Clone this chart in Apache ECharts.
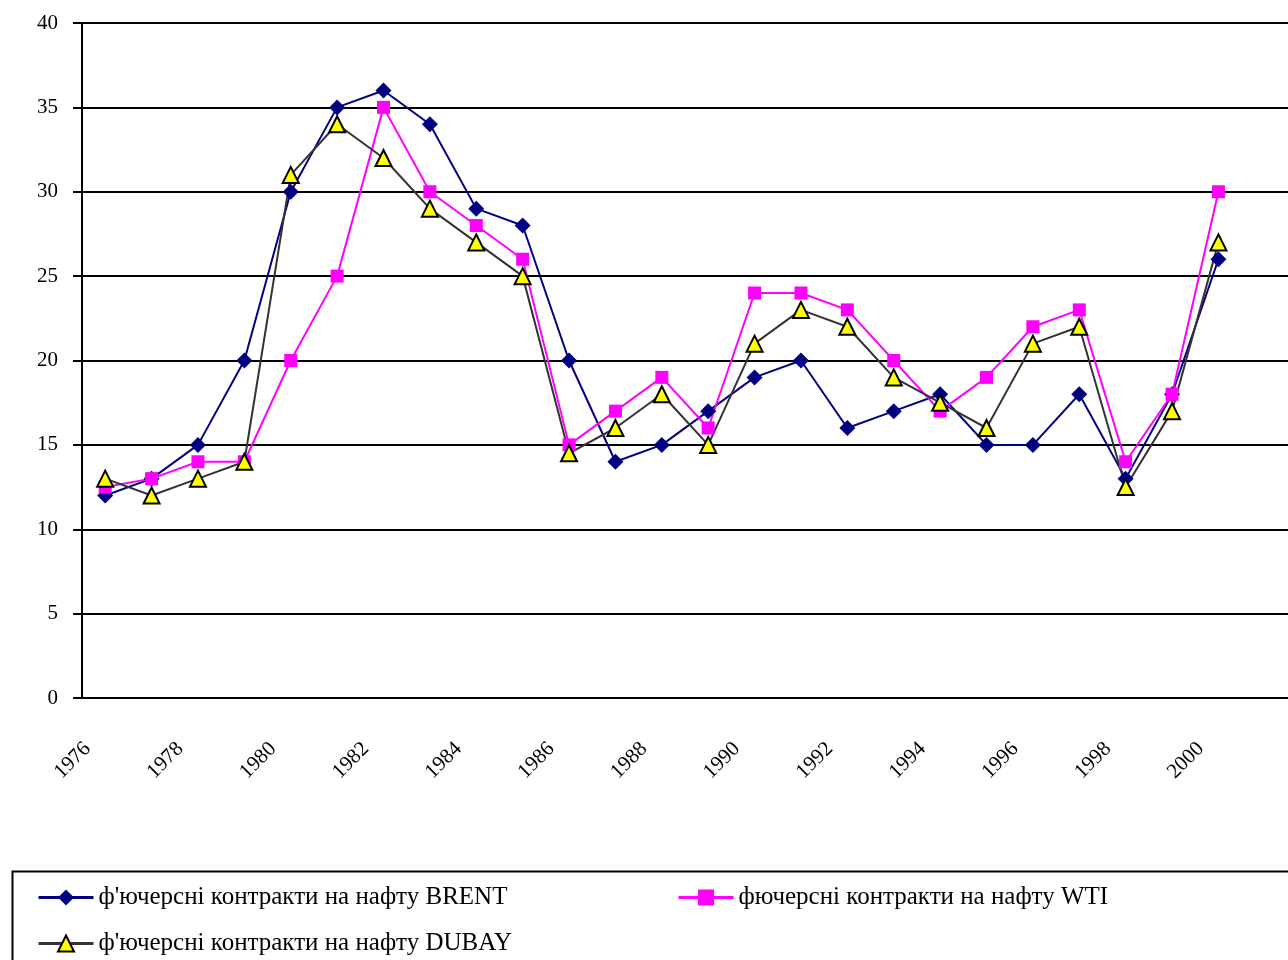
<!DOCTYPE html>
<html>
<head>
<meta charset="utf-8">
<script src="https://cdn.jsdelivr.net/npm/echarts@6/dist/echarts.min.js"></script>
<style>
  html, body { margin: 0; padding: 0; background: #fff; }
  #chart { width: 1288px; height: 960px; }
</style>
</head>
<body>
<div id="chart"></div>
<script>
const years = ['1976','1977','1978','1979','1980','1981','1982','1983','1984','1985','1986','1987','1988','1989','1990','1991','1992','1993','1994','1995','1996','1997','1998','1999','2000','2001'];
const brent = [12, 13, 15, 20, 30, 35, 36, 34, 29, 28, 20, 14, 15, 17, 19, 20, 16, 17, 18, 15, 15, 18, 13, 18, 26];
const wti   = [12.5, 13, 14, 14, 20, 25, 35, 30, 28, 26, 15, 17, 19, 16, 24, 24, 23, 20, 17, 19, 22, 23, 14, 18, 30];
const dubay = [13, 12, 13, 14, 31, 34, 32, 29, 27, 25, 14.5, 16, 18, 15, 21, 23, 22, 19, 17.5, 16, 21, 22, 12.5, 17, 27];
const names = ["ф'ючерсні контракти на нафту BRENT", "фючерсні контракти на нафту WTI", "ф'ючерсні контракти на нафту DUBAY"];

const serif = "'Liberation Serif', 'DejaVu Serif', serif";
const chart = echarts.init(document.getElementById('chart'), null, { renderer: 'canvas' });
const legendText = { fontFamily: serif, fontSize: 25, color: '#000' };
const legendBase = { itemWidth: 55, itemHeight: 20, itemGap: 6, textStyle: legendText, lineStyle: { width: 3 } };
chart.setOption({
  animation: false,
  backgroundColor: '#fff',
  grid: { left: 82, top: 23, bottom: 262, right: -7.3 },
  xAxis: {
    type: 'category',
    data: years,
    boundaryGap: true,
    axisLine: { lineStyle: { color: '#000', width: 2 } },
    axisTick: { interval: 0, length: 8, lineStyle: { color: '#000', width: 2 } },
    axisLabel: { interval: 1, rotate: 45, margin: 30, padding: [0, 25, 0, 0], fontFamily: serif, fontSize: 21, color: '#000' }
  },
  yAxis: {
    type: 'value', min: 0, max: 40, interval: 5,
    axisLine: { show: true, lineStyle: { color: '#000', width: 2 } },
    axisTick: { show: true, length: 9, lineStyle: { color: '#000', width: 2 } },
    axisLabel: { margin: 24, fontFamily: serif, fontSize: 21, color: '#000' },
    splitLine: { lineStyle: { color: '#000', width: 2 } }
  },
  legend: [
    Object.assign({ left: 32, top: 880, data: [names[0]] }, legendBase),
    Object.assign({ left: 672, top: 880, data: [names[1]] }, legendBase),
    Object.assign({ left: 32, top: 926, data: [names[2]] }, legendBase)
  ],
  graphic: [{
    type: 'rect', left: 10, top: 869, shape: { width: 1290, height: 100 },
    style: { fill: 'none', stroke: '#000', lineWidth: 2 }
  }],
  series: [
    { name: names[0], type: 'line', data: brent, symbol: 'diamond', symbolSize: 16,
      lineStyle: { color: '#000080', width: 2 }, itemStyle: { color: '#000080' } },
    { name: names[1], type: 'line', data: wti, symbol: 'rect', symbolSize: 13,
      lineStyle: { color: '#FF00FF', width: 2 }, itemStyle: { color: '#FF00FF' } },
    { name: names[2], type: 'line', data: dubay, symbol: 'triangle', symbolSize: 16,
      lineStyle: { color: '#333333', width: 2 }, itemStyle: { color: '#FFFF00', borderColor: '#000', borderWidth: 2 } }
  ]
});
</script>
</body>
</html>
